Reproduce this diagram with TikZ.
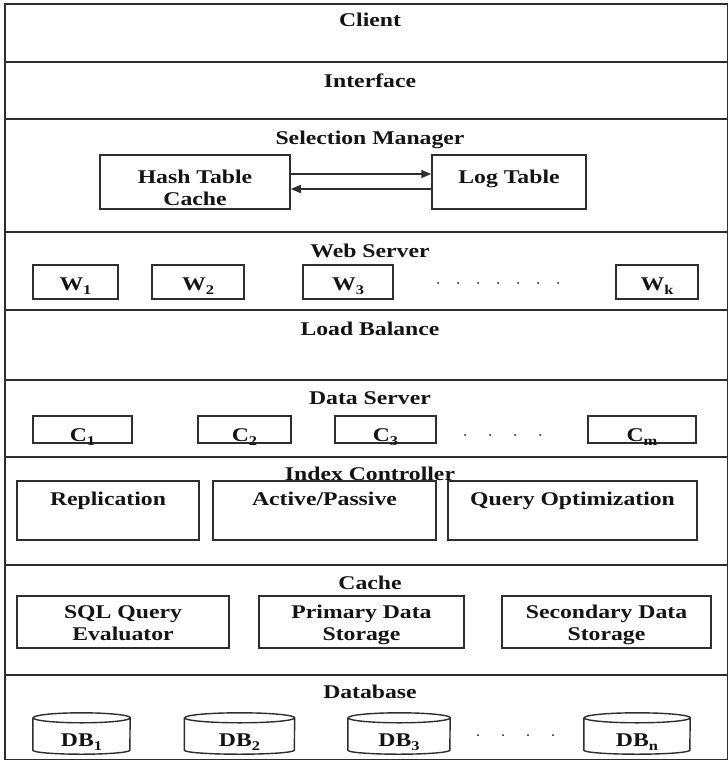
\documentclass[tikz,border=0pt]{standalone}
\usepackage{fontspec}
\setmainfont{Liberation Serif}[FakeStretch=1.22]
\usetikzlibrary{arrows.meta}
\newcommand\lowidx[1]{\raisebox{-0.5ex}{\fontsize{13.5}{13.5}\selectfont #1}}
\definecolor{ink}{HTML}{141414}
\definecolor{rule}{HTML}{2E2E2E}
\tikzset{
  layer/.style={draw=rule, line width=1.7bp, anchor=north west, inner sep=0pt},
  box/.style={draw=rule, line width=1.5bp, inner sep=0pt},
  ttl/.style={anchor=base, inner sep=0pt, text=ink, font=\fontsize{19.5}{22}\selectfont\bfseries},
  lbl/.style={ttl},
  dot/.style={circle, fill=ink, inner sep=0pt, minimum size=2bp},
  link/.style={draw=rule, line width=1.5bp, -{Triangle[length=10bp,width=8bp]}},
  dbbox/.style={inner sep=0pt, minimum height=42bp}
}
% cylinder outline around a named node; width is read from /tikz/cylw
\newcommand\cyl[1]{%
  \draw[rule, line width=1.4bp, fill=white]
    ([yshift=-5bp]#1.north west) -- ([yshift=5bp]#1.south west)
    arc[start angle=180, end angle=360, x radius=0.5*\pgfkeysvalueof{/tikz/cylw}, y radius=4bp]
    -- ([yshift=-5bp]#1.north east)
    arc[start angle=0, end angle=180, x radius=0.5*\pgfkeysvalueof{/tikz/cylw}, y radius=5bp]
    arc[start angle=180, end angle=360, x radius=0.5*\pgfkeysvalueof{/tikz/cylw}, y radius=5bp];}
\begin{document}
\begin{tikzpicture}[x=1bp,y=-1bp]
\useasboundingbox (0,0) rectangle (728,760);

% layers of the stack
\node[layer, minimum width=723bp, minimum height=58bp]  (client)  at (4,3)   {};
\node[layer, minimum width=723bp, minimum height=57bp]  (iface)   at (4,61)  {};
\node[layer, minimum width=723bp, minimum height=113bp] (selmgr)  at (4,118) {};
\node[layer, minimum width=723bp, minimum height=78bp]  (websrv)  at (4,231) {};
\node[layer, minimum width=723bp, minimum height=70bp]  (lbal)    at (4,309) {};
\node[layer, minimum width=723bp, minimum height=77bp]  (datasrv) at (4,379) {};
\node[layer, minimum width=723bp, minimum height=108bp] (idxctl)  at (4,456) {};
\node[layer, minimum width=723bp, minimum height=110bp] (cache)   at (4,564) {};
\node[layer, minimum width=723bp, minimum height=85bp]  (dbase)   at (4,674) {};

% layer titles
\node[ttl] (tclient)  at (370,27)  {Client};
\node[ttl] (tiface)   at (370,87)  {Interface};
\node[ttl] (tselmgr)  at (370,144) {Selection Manager};
\node[ttl] (twebsrv)  at (370,257) {Web Server};
\node[ttl] (tlbal)    at (370,335) {Load Balance};
\node[ttl] (tdatasrv) at (370,404) {Data Server};
\node[ttl] (tidxctl)  at (370,480) {Index Controller};
\node[ttl] (tcache)   at (370,589) {Cache};
\node[ttl] (tdbase)   at (370,698) {Database};

% selection manager
\node[box, minimum width=190bp, minimum height=54bp] (hash) at (195,182) {};
\node[box, minimum width=154bp, minimum height=54bp] (logt) at (509,182) {};
\node[lbl] at (195,183) {Hash Table};
\node[lbl] at (195,205) {Cache};
\node[lbl] at (509,183) {Log Table};
\draw[link] ([yshift=8bp]hash.east) -- ([yshift=8bp]logt.west);
\draw[link] ([yshift=-7bp]logt.west) -- ([yshift=-7bp]hash.east);

% web servers
\node[box, minimum width=85bp, minimum height=34bp] (w1) at (75.5,282) {};
\node[box, minimum width=92bp, minimum height=34bp] (w2) at (198,282) {};
\node[box, minimum width=90bp, minimum height=34bp] (w3) at (348,282) {};
\node[box, minimum width=82bp, minimum height=34bp] (wk) at (657,282) {};
\node[lbl] at (75.5,290) {W\lowidx{1}};
\node[lbl] at (198,290) {W\lowidx{2}};
\node[lbl] at (348,290) {W\lowidx{3}};
\node[lbl] at (657,290) {W\lowidx{k}};
\foreach \i in {0,...,6} \node[dot] at (438+20*\i,283) {};

% data servers
\node[box, minimum width=99bp,  minimum height=27bp] (c1) at (82.5,429.5) {};
\node[box, minimum width=93bp,  minimum height=27bp] (c2) at (244.5,429.5) {};
\node[box, minimum width=101bp, minimum height=27bp] (c3) at (385.5,429.5) {};
\node[box, minimum width=108bp, minimum height=27bp] (cm) at (642,429.5) {};
\node[lbl] at (82.5,441) {C\lowidx{1}};
\node[lbl] at (244.5,441) {C\lowidx{2}};
\node[lbl] at (385.5,441) {C\lowidx{3}};
\node[lbl] at (642,441) {C\lowidx{m}};
\foreach \i in {0,...,3} \node[dot] at (465+25*\i,435) {};

% index controller
\node[box, minimum width=182bp, minimum height=59bp] (repl) at (108,510.5) {};
\node[box, minimum width=223bp, minimum height=59bp] (actp) at (324.5,510.5) {};
\node[box, minimum width=249bp, minimum height=59bp] (qopt) at (572.5,510.5) {};
\node[lbl] at (108,505)   {Replication};
\node[lbl] at (324.5,505) {Active/Passive};
\node[lbl] at (572.5,505) {Query Optimization};

% cache
\node[box, minimum width=212bp, minimum height=52bp] (sqle) at (123,622) {};
\node[box, minimum width=205bp, minimum height=52bp] (prim) at (361.5,622) {};
\node[box, minimum width=209bp, minimum height=52bp] (secd) at (606.5,622) {};
\node[lbl] at (123,618)   {SQL Query};
\node[lbl] at (123,640)   {Evaluator};
\node[lbl] at (361.5,618) {Primary Data};
\node[lbl] at (361.5,640) {Storage};
\node[lbl] at (606.5,618) {Secondary Data};
\node[lbl] at (606.5,640) {Storage};

% databases
\pgfkeyssetvalue{/tikz/cylw}{97bp}
\node[dbbox, minimum width=97bp]  (db1) at (81.5,734) {};
\cyl{db1}
\pgfkeyssetvalue{/tikz/cylw}{110bp}
\node[dbbox, minimum width=110bp] (db2) at (239.5,734) {};
\cyl{db2}
\pgfkeyssetvalue{/tikz/cylw}{102bp}
\node[dbbox, minimum width=102bp] (db3) at (399,734) {};
\cyl{db3}
\pgfkeyssetvalue{/tikz/cylw}{106bp}
\node[dbbox, minimum width=106bp] (dbn) at (637,734) {};
\cyl{dbn}
\node[lbl] at (81.5,746) {DB\lowidx{1}};
\node[lbl] at (239.5,746) {DB\lowidx{2}};
\node[lbl] at (399,746)  {DB\lowidx{3}};
\node[lbl] at (637,746)  {DB\lowidx{n}};
\foreach \i in {0,...,3} \node[dot] at (478+25*\i,735) {};
\end{tikzpicture}
\end{document}
